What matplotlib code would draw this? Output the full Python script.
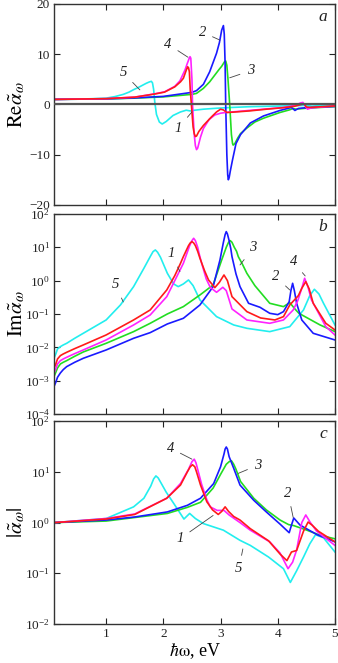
import numpy as np
import matplotlib
matplotlib.use("Agg")
import matplotlib.pyplot as plt
from matplotlib.ticker import NullLocator, FixedLocator

plt.rcParams['font.family'] = 'serif'
plt.rcParams['font.serif'] = ['Liberation Serif', 'DejaVu Serif']
plt.rcParams['mathtext.fontset'] = 'stix'

colors = {1: '#ff1a1a', 2: '#1a1aff', 3: '#22dd22', 4: '#ff22ff', 5: '#22eeee'}

# ---- panel a: Re alpha (linear) ----
re_x1 = [0.1, 1.0, 1.5, 1.84, 2.02, 2.2, 2.3, 2.35, 2.4, 2.425, 2.44, 2.455, 2.47, 2.49, 2.52, 2.54,
         2.56, 2.58, 2.62, 2.7, 2.84, 2.93, 3.0, 3.05, 3.11, 3.2, 3.5, 3.8, 4.1, 4.3, 4.42, 4.46,
         4.5, 4.56, 5.0]
re_y1 = [1.0, 1.15, 1.45, 2.05, 2.45, 3.5, 4.5, 5.2, 6.8, 7.5, 7.3, 6.5, 3.0, 0.0, -4.5, -5.8,
         -6.4, -6.3, -5.4, -4.2, -2.5, -1.5, -0.95, -1.1, -1.6, -1.55, -1.3, -0.95, -0.65, -0.35,
         0.0, 0.1, -0.5, -0.6, -0.3]
re_x2 = [0.1, 1.0, 1.5, 2.0, 2.5, 2.58, 2.7, 2.81, 2.93, 2.98, 3.02, 3.05, 3.065, 3.08, 3.09, 3.11,
         3.125, 3.136, 3.15, 3.17, 3.21, 3.27, 3.35, 3.52, 3.75, 4.04, 4.24, 4.3, 4.36, 4.5, 5.0]
re_y2 = [1.0, 1.1, 1.3, 1.6, 2.4, 2.75, 4.0, 6.5, 10.2, 12.3, 14.8, 15.7, 14.0, 8.0, 0.0, -10.0,
         -14.0, -15.0, -14.6, -13.3, -11.0, -7.8, -6.0, -3.7, -2.3, -1.2, -0.6, -1.2, -0.8, -0.65,
         -0.4]
re_x3 = [0.1, 1.0, 1.5, 2.0, 2.5, 2.58, 2.7, 2.81, 2.97, 3.02, 3.07, 3.09, 3.11, 3.13, 3.16, 3.19,
         3.21, 3.22, 3.25, 3.3, 3.35, 3.46, 3.6, 3.75, 4.04, 4.2, 4.27, 4.32, 4.5, 5.0]
re_y3 = [1.0, 1.1, 1.25, 1.5, 2.0, 2.2, 3.2, 4.5, 6.9, 7.6, 8.5, 8.65, 7.8, 5.0, 0.0, -6.0,
         -7.8, -8.1, -7.8, -6.7, -5.8, -4.7, -3.5, -2.75, -1.6, -1.1, -0.8, -0.95, -0.76, -0.43]
re_x4 = [0.1, 1.0, 1.5, 1.84, 2.02, 2.2, 2.29, 2.38, 2.42, 2.44, 2.455, 2.467, 2.48, 2.5, 2.51, 2.54,
         2.56, 2.58, 2.6, 2.65, 2.7, 2.8, 2.9, 3.0, 3.09, 3.2, 3.5, 3.8, 4.1, 4.3, 4.4, 4.44, 4.48,
         4.52, 4.58, 5.0]
re_y4 = [1.0, 1.15, 1.45, 2.1, 2.5, 3.6, 4.7, 6.9, 8.2, 8.8, 9.3, 9.5, 9.2, 5.0, 0.0, -6.0,
         -8.2, -9.0, -8.7, -6.5, -4.8, -3.0, -2.1, -1.75, -1.6, -1.5, -1.2, -0.9, -0.6, -0.2, 0.3,
         0.4, -0.3, -0.95, -0.7, -0.3]
re_x5 = [0.1, 0.67, 1.0, 1.15, 1.3, 1.4, 1.49, 1.55, 1.6, 1.7, 1.75, 1.79, 1.81, 1.83, 1.85, 1.88,
         1.93, 1.98, 2.05, 2.17, 2.3, 2.4, 2.47, 2.55, 2.7, 2.93, 3.2, 3.52, 4.1, 4.5, 4.6, 4.7, 5.0]
re_y5 = [1.0, 1.1, 1.25, 1.55, 2.0, 2.45, 3.0, 3.3, 3.6, 4.2, 4.45, 4.6, 4.3, 3.0, 0.5, -2.0,
         -3.5, -3.9, -3.4, -2.2, -1.5, -1.15, -1.3, -1.15, -0.95, -0.76, -0.6, -0.45, -0.3, -0.2,
         -0.35, -0.25, -0.2]

# ---- panel b: Im alpha, log10 of the value ----
im_x1 = [0.1, 0.12, 0.15, 0.2, 0.25, 0.31, 0.45, 0.6, 1.0, 1.48, 1.77, 2.06, 2.2, 2.3, 2.35, 2.44,
         2.47, 2.5, 2.53, 2.56, 2.6, 2.64, 2.72, 2.79, 2.9, 2.98, 3.06, 3.12, 3.2, 3.46, 3.7, 3.95,
         4.1, 4.21, 4.28, 4.36, 4.42, 4.49, 4.55, 4.62, 4.84, 5.0]
im_e1 = [-2.58, -2.5, -2.35, -2.25, -2.2, -2.15, -2.04, -1.93, -1.63, -1.18, -0.88, -0.28, 0.15,
         0.52, 0.72, 1.05, 1.13, 1.17, 1.13, 1.05, 0.88, 0.67, 0.3, 0.02, -0.21, -0.05, 0.17, 0.0,
         -0.48, -0.93, -1.12, -1.18, -1.08, -0.73, -0.6, -0.45, -0.23, -0.03, -0.25, -0.68, -1.28,
         -1.48]
im_x2 = [0.1, 0.12, 0.15, 0.2, 0.25, 0.31, 0.45, 0.6, 1.0, 1.48, 1.77, 2.07, 2.35, 2.64, 2.87, 2.99,
         3.05, 3.08, 3.1, 3.12, 3.15, 3.18, 3.2, 3.27, 3.34, 3.49, 3.69, 3.86, 4.0, 4.1, 4.2, 4.23,
         4.26, 4.29, 4.33, 4.42, 4.62, 5.0]
im_e2 = [-3.13, -3.05, -2.9, -2.77, -2.67, -2.58, -2.45, -2.33, -2.08, -1.73, -1.56, -1.3, -1.13,
         -0.73, -0.18, 0.62, 1.15, 1.38, 1.47, 1.4, 1.2, 0.95, 0.72, 0.2, -0.18, -0.68, -0.8, -0.98,
         -1.02, -0.93, -0.63, -0.3, -0.08, -0.3, -0.68, -1.18, -1.58, -1.78]
im_x3 = [0.1, 0.12, 0.15, 0.2, 0.25, 0.31, 0.45, 0.6, 1.0, 1.48, 1.77, 2.07, 2.35, 2.64, 2.87, 3.02,
         3.1, 3.14, 3.17, 3.2, 3.24, 3.28, 3.31, 3.38, 3.46, 3.6, 3.86, 4.1, 4.21, 4.3, 4.37, 4.74,
         5.0]
im_e3 = [-2.83, -2.75, -2.62, -2.5, -2.45, -2.4, -2.27, -2.14, -1.88, -1.53, -1.28, -1.0, -0.78,
         -0.43, -0.13, 0.62, 1.0, 1.15, 1.2, 1.15, 1.0, 0.88, 0.72, 0.5, 0.22, -0.15, -0.68, -0.78,
         -0.66, -0.85, -0.98, -1.33, -1.53]
im_x4 = [0.1, 0.12, 0.15, 0.2, 0.25, 0.31, 0.45, 0.6, 1.0, 1.48, 1.77, 2.06, 2.2, 2.35, 2.46, 2.5,
         2.53, 2.56, 2.6, 2.63, 2.67, 2.75, 2.82, 2.93, 3.04, 3.1, 3.2, 3.46, 3.86, 4.1, 4.27, 4.35,
         4.42, 4.47, 4.53, 4.59, 4.84, 5.0]
im_e4 = [-2.73, -2.65, -2.5, -2.4, -2.35, -2.3, -2.19, -2.08, -1.78, -1.33, -1.03, -0.48, 0.0,
         0.52, 1.05, 1.2, 1.27, 1.2, 1.0, 0.78, 0.52, 0.05, -0.2, -0.35, -0.2, -0.3, -0.85, -1.18,
         -1.28, -1.18, -0.88, -0.6, -0.23, 0.07, -0.2, -0.58, -1.38, -1.63]
im_x5 = [0.1, 0.12, 0.15, 0.2, 0.25, 0.31, 0.45, 0.6, 1.0, 1.25, 1.48, 1.66, 1.78, 1.82, 1.86, 1.9,
         1.95, 2.07, 2.18, 2.26, 2.35, 2.44, 2.52, 2.64, 2.93, 3.23, 3.46, 3.86, 4.21, 4.45, 4.56,
         4.64, 4.72, 4.8, 5.0]
im_e5 = [-2.28, -2.2, -2.05, -1.98, -1.93, -1.88, -1.73, -1.58, -1.18, -0.73, -0.18, 0.37, 0.75,
         0.87, 0.92, 0.85, 0.7, 0.22, -0.1, -0.18, -0.1, 0.02, -0.15, -0.58, -1.08, -1.33, -1.43,
         -1.53, -1.38, -0.88, -0.45, -0.26, -0.4, -0.68, -1.33]

# ---- panel c: |alpha|, log10 of the value ----
ab_x1 = [0.1, 1.0, 1.5, 2.06, 2.3, 2.42, 2.47, 2.51, 2.55, 2.58, 2.65, 2.76, 2.86, 2.96, 3.02, 3.08,
         3.14, 3.23, 3.34, 3.52, 3.84, 4.04, 4.16, 4.24, 4.33, 4.45, 4.53, 4.6, 4.71, 5.0]
ab_e1 = [0.0, 0.07, 0.16, 0.48, 0.74, 1.0, 1.1, 1.14, 1.1, 1.0, 0.74, 0.41, 0.25, 0.16, 0.22, 0.31,
         0.22, 0.12, 0.05, -0.12, -0.36, -0.62, -0.75, -0.58, -0.55, -0.17, 0.01, -0.05, -0.17,
         -0.38]
ab_x2 = [0.1, 1.0, 1.5, 2.07, 2.42, 2.65, 2.88, 3.0, 3.06, 3.08, 3.1, 3.12, 3.15, 3.23, 3.34, 3.58,
         3.8, 4.04, 4.2, 4.24, 4.28, 4.39, 4.69, 5.0]
ab_e2 = [0.0, 0.05, 0.11, 0.21, 0.34, 0.48, 0.77, 1.1, 1.35, 1.45, 1.49, 1.45, 1.3, 1.07, 0.74,
         0.44, 0.21, -0.03, -0.2, -0.05, 0.09, -0.05, -0.24, -0.38]
ab_x3 = [0.1, 1.0, 1.5, 2.07, 2.42, 2.65, 2.87, 3.0, 3.1, 3.15, 3.19, 3.23, 3.27, 3.35, 3.58, 3.8,
         4.04, 4.19, 4.28, 4.51, 4.74, 5.0]
ab_e3 = [0.0, 0.03, 0.1, 0.18, 0.3, 0.4, 0.68, 0.95, 1.15, 1.2, 1.22, 1.15, 1.05, 0.81, 0.48, 0.25,
         0.05, -0.04, -0.06, -0.15, -0.25, -0.32]
ab_x4 = [0.1, 1.0, 1.5, 2.06, 2.3, 2.44, 2.5, 2.54, 2.57, 2.6, 2.67, 2.76, 2.82, 2.94, 3.06, 3.15,
         3.34, 3.52, 3.86, 4.04, 4.18, 4.26, 4.33, 4.42, 4.49, 4.57, 4.68, 5.0]
ab_e4 = [0.0, 0.08, 0.17, 0.48, 0.77, 1.05, 1.2, 1.25, 1.18, 1.05, 0.75, 0.45, 0.31, 0.24, 0.24,
         0.15, 0.0, -0.15, -0.38, -0.6, -0.91, -0.78, -0.54, 0.0, 0.15, 0.0, -0.17, -0.45]
ab_x5 = [0.1, 1.0, 1.48, 1.66, 1.78, 1.83, 1.87, 1.91, 1.95, 2.05, 2.18, 2.36, 2.46, 2.56, 2.7, 3.05,
         3.34, 3.52, 3.84, 4.1, 4.22, 4.33, 4.45, 4.56, 4.66, 4.8, 5.0]
ab_e5 = [0.0, 0.08, 0.31, 0.48, 0.72, 0.86, 0.92, 0.88, 0.8, 0.6, 0.38, 0.07, 0.18, 0.08, -0.02,
         -0.15, -0.35, -0.45, -0.68, -0.91, -1.18, -0.95, -0.68, -0.42, -0.24, -0.3, -0.58]

re_curves = {1: (re_x1, re_y1), 2: (re_x2, re_y2), 3: (re_x3, re_y3), 4: (re_x4, re_y4), 5: (re_x5, re_y5)}
im_curves = {1: (im_x1, im_e1), 2: (im_x2, im_e2), 3: (im_x3, im_e3), 4: (im_x4, im_e4), 5: (im_x5, im_e5)}
ab_curves = {1: (ab_x1, ab_e1), 2: (ab_x2, ab_e2), 3: (ab_x3, ab_e3), 4: (ab_x4, ab_e4), 5: (ab_x5, ab_e5)}

# curve labels: (text pos x, y), (leader end x, y)
re_labels = {5: ((1.30, 6.3), (1.59, 2.9)), 4: ((2.08, 12.0), (2.43, 9.4)),
             2: ((2.68, 14.4), (2.99, 12.8)), 3: ((3.52, 6.7), (3.16, 5.3)),
             1: ((2.26, -4.7), (2.50, -1.5))}
im_labels = {1: ((2.14, 0.8), (2.29, 0.27)), 3: ((3.57, 0.98), (3.34, 0.47)),
             5: ((1.16, -0.13), (1.30, -0.64)), 2: ((3.97, 0.11), (4.21, -0.28)),
             4: ((4.27, 0.56), (4.48, 0.14))}
ab_labels = {4: ((2.12, 1.47), (2.50, 1.25)), 3: ((3.65, 1.13), (3.31, 0.97)),
             2: ((4.18, 0.58), (4.27, 0.1)), 1: ((2.29, -0.32), (2.87, 0.14)),
             5: ((3.32, -0.91), (3.39, -0.52))}

fig = plt.figure(figsize=(3.38, 6.63), dpi=100)
ax_a = fig.add_axes([0.160, 0.691, 0.831, 0.303])
ax_b = fig.add_axes([0.160, 0.3756, 0.831, 0.3017])
ax_c = fig.add_axes([0.160, 0.0588, 0.831, 0.306])

lw = 1.2
for k in [5, 3, 2, 4, 1]:
    x, y = re_curves[k]
    ax_a.plot(x, y, color=colors[k], lw=lw, zorder=2)
    x, e = im_curves[k]
    ax_b.plot(x, 10 ** np.array(e), color=colors[k], lw=lw, zorder=2)
    x, e = ab_curves[k]
    ax_c.plot(x, 10 ** np.array(e), color=colors[k], lw=lw, zorder=2)

ax_a.axhline(0, color='#555555', lw=1.6, zorder=3)


def put_labels(ax, labels, log=False):
    for k, ((tx, ty), (px, py)) in labels.items():
        if log:
            ty, py = 10 ** ty, 10 ** py
        ax.annotate(str(k), xy=(px, py), xytext=(tx, ty), fontsize=10.5, style='italic',
                    ha='center', va='center', color='#222222', zorder=5,
                    arrowprops=dict(arrowstyle='-', color='#444444', lw=0.6,
                                    shrinkA=3, shrinkB=0))


put_labels(ax_a, re_labels)
put_labels(ax_b, im_labels, log=True)
put_labels(ax_c, ab_labels, log=True)

ax_a.set_ylim(-20, 20)
ax_a.set_yticks([-20, -10, 0, 10, 20])
ax_b.set_yscale('log')
ax_b.set_ylim(1e-4, 1e2)
ax_b.yaxis.set_major_locator(FixedLocator([1e-4, 1e-3, 1e-2, 1e-1, 1e0, 1e1, 1e2]))
ax_c.set_yscale('log')
ax_c.set_ylim(1e-2, 1e2)
ax_c.yaxis.set_major_locator(FixedLocator([1e-2, 1e-1, 1e0, 1e1, 1e2]))

for ax, letter in zip([ax_a, ax_b, ax_c], ['a', 'b', 'c']):
    ax.set_xlim(0.09, 5.0)
    ax.set_xticks([1, 2, 3, 4, 5])
    ax.yaxis.set_minor_locator(NullLocator())
    ax.tick_params(direction='in', top=True, right=True, length=4, width=0.8,
                   labelsize=9.5, colors='#222222', pad=3)
    for s in ax.spines.values():
        s.set_color('#333333')
        s.set_linewidth(1.0)
    ax.text(0.957, 0.935, letter, transform=ax.transAxes, fontsize=12.5, style='italic',
            ha='center', va='center', color='#222222')
    ax.yaxis.set_label_coords(-0.095, 0.5)

ax_a.tick_params(labelbottom=False)
ax_b.tick_params(labelbottom=False)

ax_a.set_ylabel(r'$\mathrm{Re}\tilde{\alpha}_{\omega}$', fontsize=15)
ax_b.set_ylabel(r'$\mathrm{Im}\tilde{\alpha}_{\omega}$', fontsize=15)
ax_c.set_ylabel(r'$|\tilde{\alpha}_{\omega}|$', fontsize=15)
ax_c.set_xlabel(r'$\hbar\mathrm{\omega}$, eV', fontsize=13, labelpad=1)

fig.savefig('out.png', dpi=100)
